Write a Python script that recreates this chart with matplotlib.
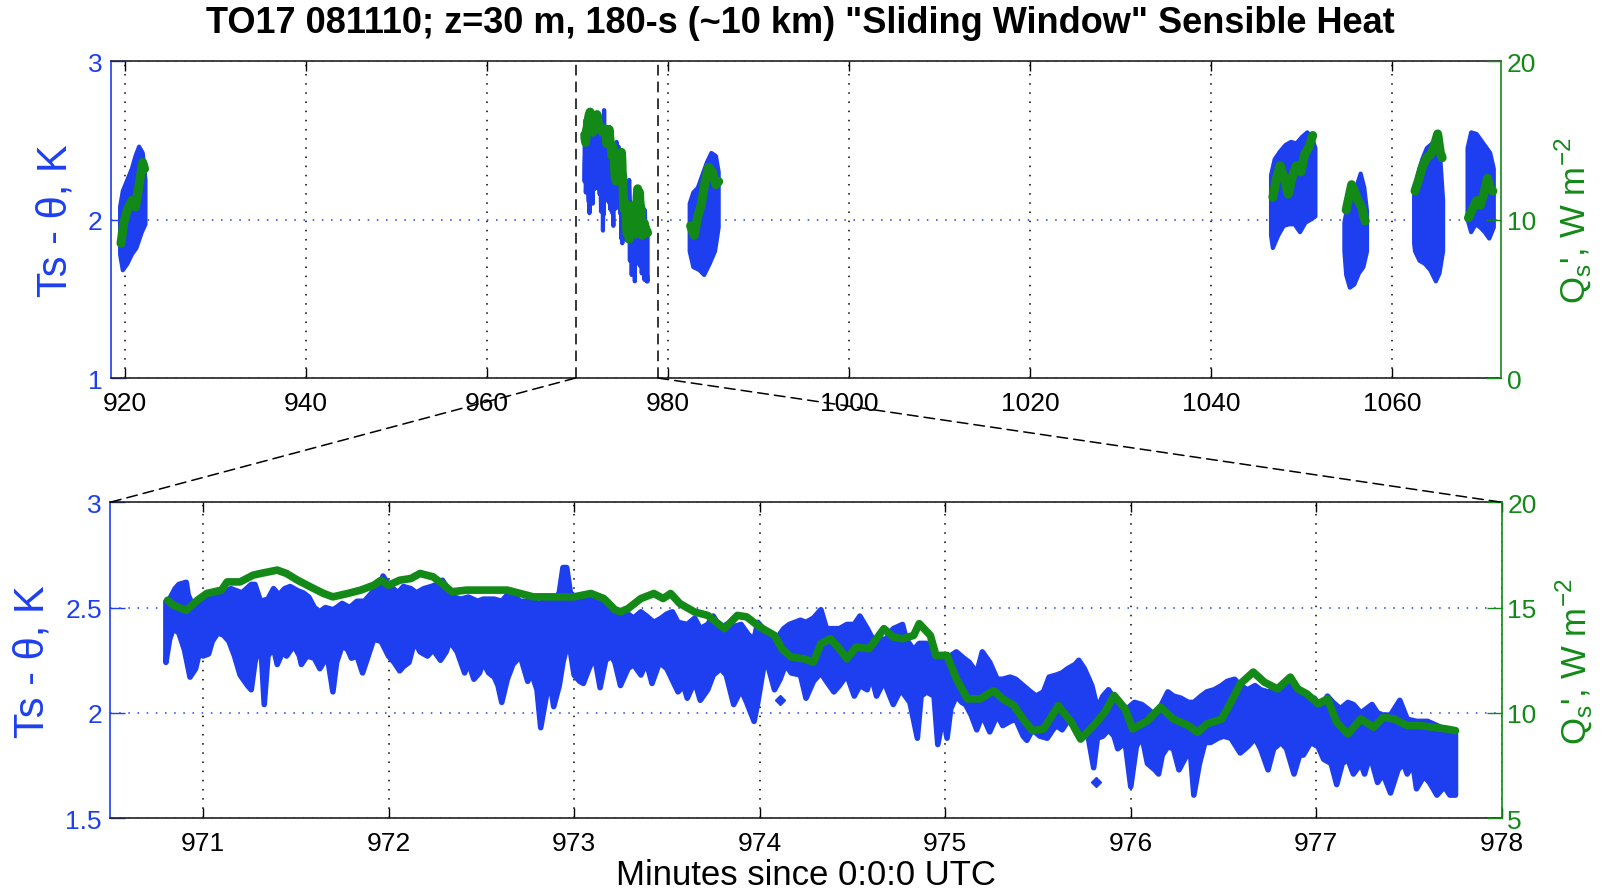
import numpy as np
import matplotlib
matplotlib.use("Agg")
import matplotlib.pyplot as plt
from matplotlib.patches import ConnectionPatch

plt.rcParams['font.family'] = ['Liberation Sans', 'DejaVu Sans']

BLUE = '#1d3ff0'
GREEN = '#138a17'

# --- 180-s sliding window run, minutes 970.8 - 977.75 (shown in both panels) ---
# Ts - theta envelope (upper / lower edge of the raw samples), K
ts_upper = np.array([
    [970.80, 2.53], [970.82, 2.54], [970.85, 2.59], [970.87, 2.61], [970.91, 2.62],
    [970.92, 2.56], [970.95, 2.50], [970.98, 2.51], [971.00, 2.53], [971.04, 2.55],
    [971.08, 2.57], [971.11, 2.57], [971.15, 2.59], [971.18, 2.58], [971.21, 2.57],
    [971.26, 2.61], [971.28, 2.61], [971.31, 2.53], [971.35, 2.54], [971.38, 2.59],
    [971.41, 2.56], [971.44, 2.59], [971.47, 2.60], [971.51, 2.58], [971.54, 2.57],
    [971.57, 2.55], [971.60, 2.50], [971.63, 2.48], [971.66, 2.50], [971.70, 2.49],
    [971.72, 2.50], [971.75, 2.52], [971.79, 2.50], [971.83, 2.53], [971.87, 2.53],
    [971.90, 2.56], [971.93, 2.59], [971.96, 2.61], [971.97, 2.65], [972.00, 2.61],
    [972.05, 2.57], [972.08, 2.60], [972.12, 2.59], [972.15, 2.57], [972.19, 2.59],
    [972.23, 2.60], [972.26, 2.61], [972.29, 2.63], [972.32, 2.59], [972.35, 2.55],
    [972.39, 2.54], [972.43, 2.55], [972.48, 2.53], [972.51, 2.54], [972.57, 2.54],
    [972.61, 2.53], [972.64, 2.56], [972.67, 2.56], [972.71, 2.53], [972.75, 2.53],
    [972.78, 2.53], [972.81, 2.52], [972.85, 2.53], [972.89, 2.53], [972.92, 2.57],
    [972.94, 2.69], [972.96, 2.69], [972.98, 2.57], [973.02, 2.54], [973.05, 2.53],
    [973.09, 2.57], [973.12, 2.56], [973.16, 2.52], [973.20, 2.50], [973.24, 2.48],
    [973.29, 2.47], [973.32, 2.45], [973.36, 2.48], [973.39, 2.46], [973.43, 2.43],
    [973.47, 2.45], [973.50, 2.47], [973.53, 2.48], [973.56, 2.43], [973.61, 2.42],
    [973.65, 2.45], [973.68, 2.40], [973.72, 2.42], [973.75, 2.46], [973.79, 2.40],
    [973.82, 2.42], [973.86, 2.41], [973.90, 2.42], [973.94, 2.37], [973.97, 2.35],
    [973.99, 2.43], [974.02, 2.40], [974.06, 2.37], [974.09, 2.35], [974.13, 2.40],
    [974.16, 2.42], [974.22, 2.44], [974.25, 2.43], [974.29, 2.45], [974.33, 2.49],
    [974.36, 2.40], [974.40, 2.40], [974.43, 2.40], [974.47, 2.42], [974.51, 2.42],
    [974.54, 2.46], [974.58, 2.40], [974.61, 2.35], [974.65, 2.35], [974.68, 2.35],
    [974.72, 2.40], [974.77, 2.42], [974.79, 2.35], [974.83, 2.30], [974.86, 2.33],
    [974.90, 2.33], [974.94, 2.29], [974.97, 2.26], [975.01, 2.26], [975.06, 2.29],
    [975.10, 2.26], [975.13, 2.24], [975.17, 2.19], [975.20, 2.29], [975.24, 2.24],
    [975.28, 2.16], [975.31, 2.16], [975.35, 2.17], [975.38, 2.16], [975.42, 2.13],
    [975.46, 2.10], [975.49, 2.08], [975.53, 2.10], [975.56, 2.17], [975.60, 2.18],
    [975.63, 2.19], [975.66, 2.21], [975.70, 2.23], [975.72, 2.25], [975.75, 2.21],
    [975.79, 2.13], [975.82, 2.02], [975.85, 2.08], [975.88, 2.11], [975.91, 2.07],
    [975.95, 2.04], [975.98, 2.02], [976.02, 2.05], [976.06, 2.04], [976.09, 2.02],
    [976.13, 1.99], [976.16, 2.03], [976.20, 2.10], [976.23, 2.08], [976.27, 2.07],
    [976.31, 2.05], [976.34, 2.05], [976.38, 2.08], [976.41, 2.10], [976.45, 2.11],
    [976.49, 2.13], [976.52, 2.15], [976.56, 2.16], [976.59, 2.13], [976.63, 2.11],
    [976.67, 2.13], [976.70, 2.11], [976.74, 2.10], [976.77, 2.11], [976.81, 2.11],
    [976.84, 2.15], [976.88, 2.11], [976.92, 2.08], [976.95, 2.05], [976.99, 2.07],
    [977.02, 2.02], [977.06, 2.08], [977.09, 2.05], [977.13, 2.02], [977.17, 2.05],
    [977.20, 2.04], [977.24, 2.00], [977.27, 2.02], [977.30, 2.04], [977.33, 2.00],
    [977.36, 1.99], [977.40, 1.99], [977.45, 2.06], [977.49, 1.97], [977.54, 1.96],
    [977.60, 1.96], [977.65, 1.94], [977.70, 1.92], [977.75, 1.91],
])

ts_lower = np.array([
    [970.80, 2.24], [970.82, 2.35], [970.84, 2.40], [970.87, 2.38], [970.90, 2.30],
    [970.93, 2.17], [970.96, 2.21], [970.99, 2.32], [971.00, 2.27], [971.03, 2.28],
    [971.05, 2.34], [971.08, 2.38], [971.11, 2.37], [971.14, 2.34], [971.17, 2.27],
    [971.20, 2.18], [971.24, 2.13], [971.26, 2.11], [971.28, 2.24], [971.31, 2.35],
    [971.33, 2.04], [971.35, 2.27], [971.38, 2.31], [971.40, 2.23], [971.43, 2.29],
    [971.45, 2.27], [971.49, 2.32], [971.52, 2.27], [971.53, 2.23], [971.56, 2.27],
    [971.60, 2.26], [971.63, 2.21], [971.67, 2.27], [971.70, 2.10], [971.72, 2.24],
    [971.75, 2.32], [971.78, 2.30], [971.80, 2.26], [971.83, 2.27], [971.86, 2.19],
    [971.89, 2.27], [971.92, 2.35], [971.96, 2.34], [972.00, 2.27], [972.03, 2.24],
    [972.06, 2.20], [972.08, 2.22], [972.11, 2.24], [972.14, 2.34], [972.17, 2.29],
    [972.21, 2.27], [972.24, 2.30], [972.28, 2.25], [972.31, 2.29], [972.33, 2.34],
    [972.37, 2.29], [972.41, 2.19], [972.43, 2.24], [972.46, 2.16], [972.49, 2.19],
    [972.51, 2.24], [972.54, 2.19], [972.57, 2.17], [972.59, 2.13], [972.61, 2.05],
    [972.64, 2.16], [972.67, 2.23], [972.71, 2.27], [972.75, 2.15], [972.77, 2.19],
    [972.80, 2.11], [972.82, 1.93], [972.85, 2.08], [972.87, 2.15], [972.89, 2.03],
    [972.92, 2.13], [972.94, 2.24], [972.97, 2.35], [973.00, 2.18], [973.03, 2.15],
    [973.05, 2.14], [973.08, 2.21], [973.11, 2.27], [973.14, 2.12], [973.17, 2.25],
    [973.20, 2.27], [973.22, 2.24], [973.25, 2.13], [973.29, 2.21], [973.32, 2.23],
    [973.36, 2.18], [973.39, 2.24], [973.42, 2.14], [973.46, 2.24], [973.50, 2.21],
    [973.56, 2.10], [973.59, 2.13], [973.61, 2.07], [973.65, 2.15], [973.68, 2.06],
    [973.72, 2.11], [973.75, 2.18], [973.79, 2.21], [973.82, 2.18], [973.86, 2.04],
    [973.90, 2.11], [973.93, 2.05], [973.97, 1.96], [973.99, 2.05], [974.02, 2.21],
    [974.04, 2.24], [974.08, 2.11], [974.11, 2.16], [974.14, 2.23], [974.17, 2.19],
    [974.22, 2.18], [974.25, 2.07], [974.29, 2.15], [974.33, 2.19], [974.36, 2.15],
    [974.40, 2.10], [974.43, 2.13], [974.47, 2.18], [974.51, 2.08], [974.54, 2.13],
    [974.58, 2.11], [974.60, 2.18], [974.63, 2.08], [974.67, 2.15], [974.72, 2.04],
    [974.76, 2.11], [974.81, 2.05], [974.85, 1.88], [974.87, 2.08], [974.90, 2.10],
    [974.94, 2.08], [974.96, 1.85], [974.99, 1.99], [975.01, 1.88], [975.03, 2.02],
    [975.06, 2.08], [975.09, 2.05], [975.11, 2.04], [975.14, 1.99], [975.17, 1.92],
    [975.20, 1.99], [975.24, 1.91], [975.28, 1.99], [975.31, 1.94], [975.35, 1.96],
    [975.38, 1.97], [975.42, 1.89], [975.44, 1.87], [975.47, 1.92], [975.51, 1.89],
    [975.55, 1.88], [975.58, 1.92], [975.60, 1.94], [975.63, 1.92], [975.66, 1.96],
    [975.70, 1.99], [975.73, 1.91], [975.77, 1.89], [975.80, 1.74], [975.82, 1.88],
    [975.85, 1.89], [975.88, 1.92], [975.91, 1.89], [975.93, 1.83], [975.97, 1.86],
    [976.00, 1.65], [976.03, 1.84], [976.06, 1.89], [976.09, 1.76], [976.13, 1.73],
    [976.15, 1.71], [976.17, 1.80], [976.20, 1.84], [976.23, 1.83], [976.26, 1.73],
    [976.29, 1.78], [976.32, 1.83], [976.34, 1.61], [976.37, 1.76], [976.40, 1.86],
    [976.43, 1.86], [976.47, 1.88], [976.50, 1.89], [976.54, 1.88], [976.59, 1.81],
    [976.63, 1.84], [976.67, 1.88], [976.70, 1.83], [976.74, 1.73], [976.77, 1.83],
    [976.81, 1.86], [976.84, 1.83], [976.88, 1.71], [976.91, 1.80], [976.93, 1.80],
    [976.97, 1.86], [977.01, 1.84], [977.04, 1.78], [977.08, 1.76], [977.11, 1.66],
    [977.14, 1.76], [977.17, 1.78], [977.20, 1.71], [977.24, 1.76], [977.26, 1.71],
    [977.29, 1.80], [977.33, 1.67], [977.36, 1.71], [977.40, 1.62], [977.44, 1.73],
    [977.47, 1.76], [977.49, 1.71], [977.52, 1.76], [977.54, 1.64], [977.58, 1.70],
    [977.61, 1.67], [977.65, 1.61], [977.69, 1.65], [977.72, 1.61], [977.75, 1.61],
])

# isolated samples away from the main band
ts_strays = np.array([[974.11, 2.06], [975.81, 1.67]])

# sliding-window sensible heat flux, W m^-2
qs_main = np.array([
    [970.81, 15.35], [970.84, 15.11], [970.91, 14.87], [970.97, 15.35], [971.02, 15.67],
    [971.10, 15.83], [971.13, 16.22], [971.20, 16.22], [971.27, 16.54], [971.31, 16.62],
    [971.40, 16.78], [971.45, 16.62], [971.51, 16.30], [971.58, 15.98], [971.65, 15.67],
    [971.70, 15.51], [971.78, 15.67], [971.85, 15.83], [971.92, 16.06], [971.96, 16.30],
    [972.00, 16.06], [972.06, 16.30], [972.12, 16.38], [972.17, 16.62], [972.24, 16.46],
    [972.30, 16.06], [972.34, 15.75], [972.42, 15.83], [972.50, 15.83], [972.57, 15.83],
    [972.64, 15.83], [972.71, 15.67], [972.78, 15.51], [972.86, 15.51], [972.93, 15.51],
    [973.00, 15.51], [973.09, 15.67], [973.16, 15.43], [973.22, 14.90], [973.25, 14.80],
    [973.29, 14.95], [973.36, 15.43], [973.43, 15.67], [973.48, 15.43], [973.52, 15.67],
    [973.57, 15.19], [973.65, 14.79], [973.72, 14.63], [973.81, 14.00], [973.88, 14.63],
    [973.93, 14.56], [974.00, 14.08], [974.08, 13.68], [974.12, 13.05], [974.17, 12.65],
    [974.24, 12.57], [974.29, 12.41], [974.33, 13.29], [974.38, 13.52], [974.43, 13.05],
    [974.47, 12.57], [974.52, 13.13], [974.59, 13.05], [974.67, 14.00], [974.72, 13.60],
    [974.77, 13.52], [974.83, 13.68], [974.86, 14.24], [974.92, 13.68], [974.95, 12.73],
    [975.01, 12.73], [975.06, 11.62], [975.12, 10.67], [975.19, 10.67], [975.26, 11.06],
    [975.31, 10.67], [975.37, 10.35], [975.42, 9.71], [975.47, 9.16], [975.53, 9.24],
    [975.61, 10.35], [975.63, 10.11], [975.68, 9.56], [975.73, 8.76], [975.80, 9.40],
    [975.86, 10.03], [975.91, 10.83], [975.97, 10.19], [976.01, 9.24], [976.09, 9.63],
    [976.16, 10.27], [976.23, 9.71], [976.31, 9.40], [976.36, 9.08], [976.41, 9.48],
    [976.49, 9.71], [976.54, 10.51], [976.59, 11.38], [976.66, 11.94], [976.72, 11.46],
    [976.79, 11.14], [976.86, 11.70], [976.90, 11.14], [976.95, 10.90], [977.01, 10.43],
    [977.06, 10.67], [977.11, 9.56], [977.17, 9.00], [977.24, 9.71], [977.31, 9.32],
    [977.36, 9.79], [977.42, 9.71], [977.49, 9.40], [977.56, 9.40], [977.63, 9.32],
    [977.70, 9.24], [977.75, 9.16],
])

# --- other runs, overview panel only ---
run920_upper = np.array([[919.5, 2.08], [919.8, 2.18], [920.3, 2.25], [920.8, 2.32],
                         [921.2, 2.40], [921.6, 2.46], [922.0, 2.42], [922.3, 2.25]])
run920_lower = np.array([[919.5, 1.78], [919.8, 1.68], [920.3, 1.72], [920.8, 1.78],
                         [921.3, 1.82], [921.9, 1.92], [922.3, 1.97]])
run920_qs = np.array([[919.6, 8.5], [919.9, 9.8], [920.3, 10.6], [920.8, 11.2],
                      [921.2, 10.8], [921.6, 12.2], [922.0, 13.6], [922.2, 13.2]])

run983_upper = np.array([[982.4, 2.10], [982.8, 2.17], [983.3, 2.20], [983.8, 2.28],
                         [984.3, 2.36], [984.8, 2.42], [985.3, 2.40], [985.6, 2.30]])
run983_lower = np.array([[982.4, 1.80], [982.8, 1.70], [983.5, 1.68], [984.0, 1.65],
                         [984.6, 1.72], [985.2, 1.80], [985.6, 1.95]])
run983_qs = np.array([[982.5, 9.6], [982.9, 9.0], [983.3, 10.2], [983.7, 11.0],
                      [984.1, 12.4], [984.5, 13.3], [984.9, 13.0], [985.3, 12.2], [985.6, 12.4]])

run1049_upper = np.array([[1046.6, 2.28], [1047.0, 2.38], [1047.6, 2.43], [1048.2, 2.47],
                          [1048.8, 2.49], [1049.4, 2.48], [1050.0, 2.52], [1050.6, 2.55],
                          [1051.1, 2.52], [1051.5, 2.45]])
run1049_lower = np.array([[1046.6, 1.90], [1046.8, 1.82], [1047.4, 1.90], [1048.0, 1.96],
                          [1048.6, 1.97], [1049.2, 1.97], [1049.8, 1.92], [1050.4, 1.98],
                          [1051.0, 2.00], [1051.5, 2.02]])
run1049_qs = np.array([[1046.8, 11.4], [1047.2, 12.6], [1047.6, 13.4], [1048.1, 12.5],
                       [1048.5, 11.6], [1049.0, 12.8], [1049.4, 13.4], [1049.9, 13.0],
                       [1050.3, 14.1], [1050.8, 14.6], [1051.2, 15.3]])

run1056_upper = np.array([[1054.7, 1.98], [1055.1, 2.10], [1055.6, 2.14], [1056.1, 2.22],
                          [1056.5, 2.29], [1056.9, 2.20], [1057.2, 2.05]])
run1056_lower = np.array([[1054.7, 1.80], [1054.9, 1.65], [1055.3, 1.57], [1055.8, 1.59],
                          [1056.3, 1.66], [1056.8, 1.70], [1057.2, 1.80]])
run1056_qs = np.array([[1054.9, 10.6], [1055.2, 11.4], [1055.5, 12.2], [1055.8, 11.8],
                       [1056.2, 11.2], [1056.6, 10.8], [1057.0, 9.9]])

run1064_upper = np.array([[1062.4, 2.15], [1062.8, 2.28], [1063.3, 2.38], [1063.8, 2.45],
                          [1064.4, 2.48], [1064.9, 2.52], [1065.3, 2.38], [1065.6, 2.12]])
run1064_lower = np.array([[1062.4, 1.85], [1062.5, 1.80], [1063.0, 1.74], [1063.6, 1.72],
                          [1064.2, 1.68], [1064.8, 1.61], [1065.2, 1.66], [1065.6, 1.80]])
run1064_qs = np.array([[1062.5, 11.8], [1062.9, 12.5], [1063.3, 13.3], [1063.8, 13.9],
                       [1064.2, 14.1], [1064.6, 14.6], [1065.0, 15.4], [1065.3, 14.2],
                       [1065.5, 13.9]])

run1070_upper = np.array([[1068.3, 2.45], [1068.7, 2.55], [1069.3, 2.54], [1069.8, 2.50],
                          [1070.3, 2.46], [1070.8, 2.42], [1071.2, 2.32]])
run1070_lower = np.array([[1068.3, 2.00], [1068.7, 1.92], [1069.2, 1.97], [1069.7, 1.95],
                          [1070.2, 1.92], [1070.7, 1.88], [1071.2, 1.95]])
run1070_qs = np.array([[1068.4, 10.1], [1068.8, 10.6], [1069.3, 11.2], [1069.7, 10.9],
                       [1070.1, 11.6], [1070.5, 12.6], [1070.8, 12.0], [1071.1, 11.8]])

top_xticks = [920, 940, 960, 980, 1000, 1020, 1040, 1060]
bot_xticks = [971, 972, 973, 974, 975, 976, 977, 978]
zoom_box = (969.8, 978.9)

TITLE = 'TO17 081110; z=30 m, 180-s (~10 km) "Sliding Window" Sensible Heat'
TS_LABEL = 'Ts - \u03b8, K'
QS_LABEL = "Q$_\\mathregular{s}$', W m$^\\mathregular{-2}$"


def draw_band(ax, upper, lower, lw):
    """Fill between the upper and lower edge of the Ts scatter."""
    t = np.concatenate([upper[:, 0], lower[::-1, 0]])
    v = np.concatenate([upper[:, 1], lower[::-1, 1]])
    ax.fill(t, v, facecolor=BLUE, edgecolor=BLUE, lw=lw, joinstyle='round')


def style_axes(ax, ax2, yticks, qticks, xlim, ylim, qlim, xticks):
    ax.set_xlim(*xlim)
    ax.set_ylim(*ylim)
    ax2.set_ylim(*qlim)
    ax.set_xticks(xticks)
    ax.set_yticks(yticks)
    ax2.set_yticks(qticks)
    ax.set_yticklabels([f'{v:g}' for v in yticks])
    ax2.set_yticklabels([f'{v:g}' for v in qticks])

    ax.set_axisbelow(True)
    ax.xaxis.grid(True, linestyle=(0, (1, 5)), color='k', lw=1.1)
    ax.yaxis.grid(True, linestyle=(0, (1, 5)), color=BLUE, lw=1.1)

    ax.tick_params(axis='x', direction='in', length=7, width=1, top=True,
                   labelsize=19, pad=9, colors='k')
    ax.tick_params(axis='y', direction='in', length=11, width=1,
                   labelsize=19, pad=6, colors=BLUE)
    ax2.tick_params(axis='y', direction='in', length=11, width=1,
                    labelsize=19, pad=4, colors=GREEN)

    for side in ('top', 'bottom'):
        ax.spines[side].set_color('#222222')
        ax.spines[side].set_linewidth(1.2)
        ax2.spines[side].set_visible(False)
    ax.spines['left'].set_color(BLUE)
    ax.spines['left'].set_linewidth(1.2)
    ax.spines['right'].set_visible(False)
    ax2.spines['left'].set_visible(False)
    ax2.spines['right'].set_color(GREEN)
    ax2.spines['right'].set_linewidth(1.2)

    ax.set_ylabel(TS_LABEL, color=BLUE, fontsize=30, labelpad=9)
    ax2.set_ylabel(QS_LABEL, color=GREEN, fontsize=25, labelpad=12)


fig = plt.figure(figsize=(16.21, 8.95), dpi=100)
ax_top = fig.add_axes([0.0685, 0.5765, 0.8575, 0.3542])
ax_bot = fig.add_axes([0.0680, 0.0846, 0.8585, 0.3531])
ax_top_q = ax_top.twinx()
ax_bot_q = ax_bot.twinx()

# overview panel
runs = [
    (run920_upper, run920_lower, run920_qs),
    (ts_upper, ts_lower, qs_main),
    (run983_upper, run983_lower, run983_qs),
    (run1049_upper, run1049_lower, run1049_qs),
    (run1056_upper, run1056_lower, run1056_qs),
    (run1064_upper, run1064_lower, run1064_qs),
    (run1070_upper, run1070_lower, run1070_qs),
]
for upper, lower, qs in runs:
    draw_band(ax_top, upper, lower, lw=3)
    ax_top_q.plot(qs[:, 0], qs[:, 1], color=GREEN, lw=6.5,
                  solid_joinstyle='round', solid_capstyle='round')

for xb in zoom_box:
    ax_top.axvline(xb, color='k', lw=1.1, linestyle=(0, (7, 4)), zorder=3)

style_axes(ax_top, ax_top_q, [1, 2, 3], [0, 10, 20],
           (918.5, 1072), (1, 3), (0, 20), top_xticks)

# zoomed panel
draw_band(ax_bot, ts_upper, ts_lower, lw=4)
ax_bot.plot(ts_strays[:, 0], ts_strays[:, 1], 'D', color=BLUE, ms=5, mec=BLUE)
ax_bot_q.plot(qs_main[:, 0], qs_main[:, 1], color=GREEN, lw=5.5,
              solid_joinstyle='round', solid_capstyle='round')

style_axes(ax_bot, ax_bot_q, [1.5, 2, 2.5, 3], [5, 10, 15, 20],
           (970.5, 978), (1.5, 3), (5, 20), bot_xticks)
ax_bot.set_xlabel('Minutes since 0:0:0 UTC', fontsize=25, labelpad=2)

# dashed lines linking the zoom box to the lower panel
for xa, xb in ((zoom_box[0], 970.5), (zoom_box[1], 978)):
    con = ConnectionPatch(xyA=(xa, 1), coordsA=ax_top.transData,
                          xyB=(xb, 3), coordsB=ax_bot.transData,
                          color='k', lw=1.1, linestyle=(0, (7, 4)))
    fig.add_artist(con)

fig.text(0.494, 0.974, TITLE, ha='center', va='center',
         fontsize=26, fontweight='bold')

fig.savefig('out.png', dpi=100)
